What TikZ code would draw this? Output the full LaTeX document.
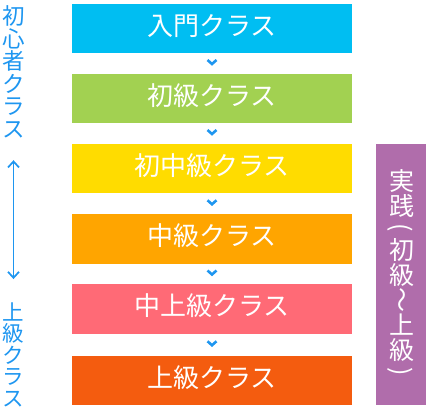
\documentclass[tikz,border=0pt]{standalone}
\usepackage{fontspec}
\newfontfamily\jpfont{Noto Sans CJK JP}
\usetikzlibrary{arrows.meta,calc}

\definecolor{nyumon}{HTML}{00BEF2}
\definecolor{shokyu}{HTML}{A2D151}
\definecolor{shochu}{HTML}{FFDC00}
\definecolor{chukyu}{HTML}{FFA500}
\definecolor{chujo}{HTML}{FF6A76}
\definecolor{jokyu}{HTML}{F45C0F}
\definecolor{jissen}{HTML}{B06DAB}
\definecolor{guide}{HTML}{1E96F0}

% upright glyph (one em square) inside a rotated, vertical node
\newcommand\up[1]{\rotatebox[origin=c]{90}{\makebox[1em]{\rule[-.12em]{0pt}{1em}#1}}}

\tikzset{
  classbox/.style={minimum width=280pt, minimum height=49.5pt, inner sep=0pt,
    text height=16pt, text depth=3pt,
    text=white, font=\jpfont\fontsize{26}{26}\selectfont},
  tate/.style={rotate=-90, inner sep=0pt, text=guide,
    font=\jpfont\fontsize{22.5}{22.5}\selectfont},
  chev/.style={draw=guide, line width=2.6pt},
  updown/.style={{Straight Barb[length=6pt,width=11pt]}-{Straight Barb[length=6pt,width=11pt]},
    draw=guide, line width=1.7pt}
}

\begin{document}
\begin{tikzpicture}[x=1pt,y=-1pt]
\useasboundingbox (0,0) rectangle (428,410);

\node[classbox, fill=nyumon] (c1) at (212,28.5) {入門クラス};
\node[classbox, fill=shokyu] (c2) at (212,98.5) {初級クラス};
\node[classbox, fill=shochu] (c3) at (212,168.5) {初中級クラス};
\node[classbox, fill=chukyu] (c4) at (212,239) {中級クラス};
\node[classbox, fill=chujo] (c5) at (212,309) {中上級クラス};
\node[classbox, fill=jokyu] (c6) at (212,380.5) {上級クラス};

\foreach \a/\b in {c1/c2,c2/c3,c3/c4,c4/c5,c5/c6}
  \draw[chev] ($(\a.south)!0.5!(\b.north)$) ++(-4.5,-3.5) -- ++(4.5,4) -- ++(4.5,-4);

\node[tate, fill=jissen, text=white, font=\jpfont\fontsize{25}{25}\selectfont,
  minimum width=261pt, minimum height=50pt] (prac) at (401,274.5)
  {\up{実}\up{践}\kern.2em(\kern.2em\up{初}\up{級}～\up{上}\up{級}\kern.2em)\kern.2em};

\node[tate] (beg) at (13.5,72.5) {\up{初}\up{心}\up{者}\up{ク}\up{ラ}\up{ス}};
\node[tate, font=\jpfont\fontsize{21.5}{21.5}\selectfont] (adv) at (13.5,355)
  {\up{上}\up{級}\up{ク}\up{ラ}\up{ス}};
\draw[updown, shorten <=20pt, shorten >=22pt] (beg.east) -- (adv.west);

\end{tikzpicture}
\end{document}
